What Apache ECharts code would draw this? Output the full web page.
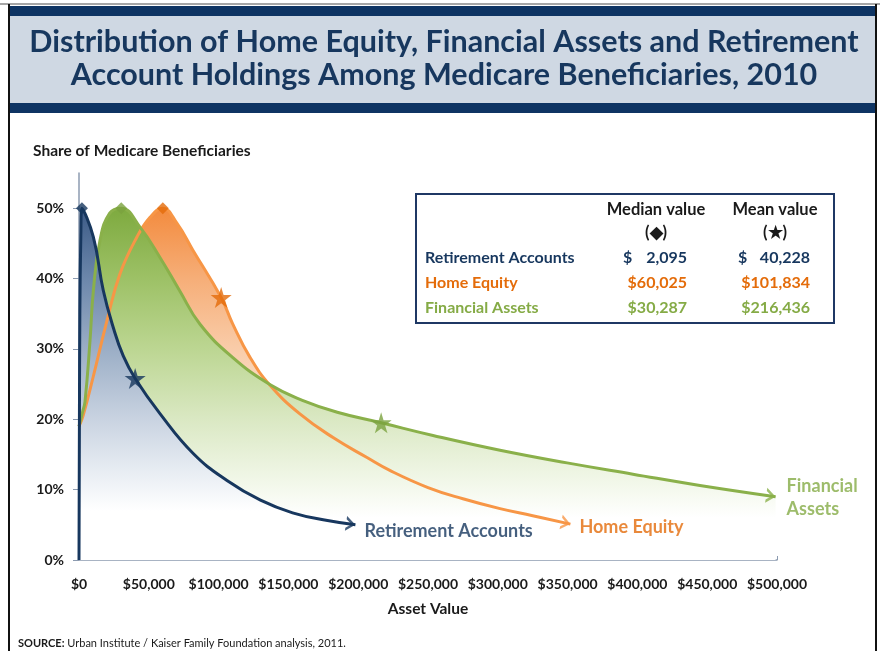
<!DOCTYPE html>
<html>
<head>
<meta charset="utf-8">
<script src="https://cdn.jsdelivr.net/npm/echarts/dist/echarts.min.js"></script>
<style>
html, body { margin: 0; padding: 0; background: #fff; }
#main { width: 880px; height: 651px; }
</style>
</head>
<body>
<div id="main"></div>
<script>
// values: [asset value $, share %]
var retirementPts = [[0, 0], [600, 35], [1300, 46], [2095, 50], [10300, 45.9], [17400, 38.3], [24600, 33], [31700, 29.0], [40228, 25.8], [58000, 20.8], [82000, 15.1], [106000, 11.3], [130000, 8.5], [153000, 6.7], [178000, 5.6], [198000, 5.0]];
var homeEquityPts = [[0, 19], [2900, 20.5], [10000, 25.9], [20000, 34], [29400, 40.7], [41500, 45.9], [50900, 48.7], [60025, 50], [70000, 47.9], [81700, 44], [101834, 37.3], [110000, 33.6], [122500, 28.8], [137000, 24.8], [158000, 20.8], [182000, 17.4], [206000, 14.6], [223000, 12.7], [250000, 10.3], [275000, 8.7], [301600, 7.3], [325000, 6.3], [352000, 5.1]];
var financialPts = [[0, 19], [2500, 21], [4300, 22.5], [7900, 31.2], [10300, 38.3], [15000, 45.4], [22000, 49.3], [30287, 50], [43700, 47.3], [58000, 43], [72000, 38.3], [86700, 33.5], [110000, 28.8], [137000, 24.9], [160000, 22.7], [185000, 21.0], [216436, 19.5], [253600, 17.7], [301600, 15.6], [349600, 13.8], [396800, 12.2], [444800, 10.6], [499000, 9.0]];

var seriesNames = ['Retirement Accounts', 'Home Equity', 'Financial Assets'];
var medianValues = [2095, 60025, 30287];
var meanValues = [40228, 101834, 216436];
var medianShare = [50, 50, 50];
var meanShare = [25.8, 37.3, 19.5];
var yTicks = [0, 10, 20, 30, 40, 50];
var xTicks = [0, 50000, 100000, 150000, 200000, 250000, 300000, 350000, 400000, 450000, 500000];

var FONT = 'Lato, "Open Sans", sans-serif';
var navy = '#17375E';
var orangeLine = '#F79646';
var orangeDark = '#E46C0A';
var greenLine = '#8AB04A';
var greenDark = '#7AA33E';
var greenText = '#85AB46';

var starPath = 'path://M50,0 L61,35 L98,35 L68,57 L79,91 L50,70 L21,91 L32,57 L2,35 L39,35 Z';
var arrowPath = 'path://M0,0 L9,7 L0,14 L0,11 L5.2,7 L0,3 Z M18,7 L18,7.01 L17.99,7 Z';

function grad(stops) {
	return {
		type: 'linear', x: 0, y: 0, x2: 0, y2: 1,
		colorStops: stops.map(function(s) { return { offset: s[0], color: s[1] }; })
	};
}

function money(v) {
	return v.toLocaleString('en-US');
}

var chart = echarts.init(document.getElementById('main'));

var allPts = [retirementPts, homeEquityPts, financialPts];
var lineColors = [navy, orangeLine, greenLine];
var markColors = [navy, orangeDark, greenDark];
var fills = [
	grad([[0, '#3B5A86'], [0.2, '#6C87AB'], [0.4, '#9BAEC6'], [0.6, '#C9D3E1'], [0.75, '#E8EDF3'], [0.86, '#FFFFFF']]),
	grad([[0, '#F38B3E'], [0.2, '#F6AE78'], [0.4, '#F9CCA9'], [0.6, '#FCE5D4'], [0.8, '#FFFFFF']]),
	grad([[0, '#7EAA3F'], [0.2, '#9DC166'], [0.4, '#BCD692'], [0.6, '#DAE8C3'], [0.75, '#EEF5E3'], [0.88, '#FFFFFF']])
];
var labelOffsets = [[9, 6], [9, 3], [11, 1]];
var labelColors = [navy, orangeDark, greenText];
var labelTexts = ['Retirement Accounts', 'Home Equity', 'Financial\nAssets'];

// draw order: orange (back), green, navy (front)
var order = [1, 2, 0];
var series = [];
order.forEach(function(i) {
	series.push({
		type: 'line',
		smooth: 0.45,
		showSymbol: false,
		silent: true,
		lineStyle: { width: 0, opacity: 0 },
		areaStyle: { color: fills[i], opacity: 1 },
		data: allPts[i],
		z: 1
	});
});
var lineIndex = {};
order.forEach(function(i) {
	lineIndex[i] = series.length;
	series.push({
		type: 'line',
		name: seriesNames[i],
		smooth: 0.45,
		showSymbol: false,
		lineStyle: { width: 3, color: lineColors[i] },
		data: allPts[i],
		z: 3
	});
});

// arrow heads at the end of every line
var arrowData = [0, 1, 2].map(function(i) {
	var pts = allPts[i];
	return {
		value: pts[pts.length - 1],
		itemStyle: { color: lineColors[i] },
		symbolRotate: 0,
		label: {
			show: true,
			position: 'inside',
			align: 'left',
			verticalAlign: 'middle',
			offset: labelOffsets[i],
			formatter: labelTexts[i],
			color: labelColors[i],
			fontFamily: FONT,
			fontWeight: 'bold',
			fontSize: 18,
			lineHeight: 23
		}
	};
});
series.push({
	type: 'scatter',
	symbol: arrowPath,
	symbolSize: [19, 15],
	data: arrowData,
	z: 6
});

series.push({
	type: 'scatter',
	symbol: 'diamond',
	symbolSize: 12,
	data: [0, 1, 2].map(function(i) {
		return { value: [medianValues[i], medianShare[i]], itemStyle: { color: markColors[i] } };
	}),
	z: 7
});
series.push({
	type: 'scatter',
	symbol: starPath,
	symbolSize: 21,
	data: [0, 1, 2].map(function(i) {
		return { value: [meanValues[i], meanShare[i]], itemStyle: { color: markColors[i] } };
	}),
	z: 7
});

// table of medians and means
var tbl = [];
tbl.push({ type: 'rect', shape: { x: 416, y: 194, width: 418, height: 129 }, style: { fill: '#fff', stroke: '#1F3864', lineWidth: 2 }, z: 20 });
var hdrStyle = { fontFamily: FONT, fontWeight: 'bold', fontSize: 16.5, fill: '#1a1a1a', textAlign: 'center', textVerticalAlign: 'middle' };
tbl.push({ type: 'text', x: 656, y: 210, style: Object.assign({ text: 'Median value' }, hdrStyle), z: 21 });
tbl.push({ type: 'text', x: 656, y: 233, style: Object.assign({ text: '(\u25C6)' }, hdrStyle), z: 21 });
tbl.push({ type: 'text', x: 775, y: 210, style: Object.assign({ text: 'Mean value' }, hdrStyle), z: 21 });
tbl.push({ type: 'text', x: 775, y: 233, style: Object.assign({ text: '(\u2605)' }, hdrStyle), z: 21 });
var rowY = [258, 283, 308];
var rowColors = [navy, orangeDark, greenText];

function valueCell(v, column, leftX, rightX, y, st) {
	var s = money(v);
	var widest = Math.max.apply(null, column.map(function(c) { return money(c).length; }));
	if (s.length < widest) {
		tbl.push({ type: 'text', x: leftX, y: y, style: Object.assign({ text: '$', textAlign: 'left' }, st), z: 21 });
		tbl.push({ type: 'text', x: rightX, y: y, style: Object.assign({ text: s, textAlign: 'right' }, st), z: 21 });
	} else {
		tbl.push({ type: 'text', x: rightX, y: y, style: Object.assign({ text: '$' + s, textAlign: 'right' }, st), z: 21 });
	}
}

[0, 1, 2].forEach(function(i) {
	var st = { fontFamily: FONT, fontWeight: 'bold', fontSize: 16, fill: rowColors[i], textVerticalAlign: 'middle' };
	tbl.push({ type: 'text', x: 425, y: rowY[i], style: Object.assign({ text: seriesNames[i], textAlign: 'left' }, st), z: 21 });
	valueCell(medianValues[i], medianValues, 623, 687, rowY[i], st);
	valueCell(meanValues[i], meanValues, 738, 810, rowY[i], st);
});

var frame = [
	{ type: 'rect', shape: { x: 0, y: 3, width: 880, height: 2 }, style: { fill: '#A6A6A6' }, z: 30 },
	{ type: 'rect', shape: { x: 8, y: 4, width: 2, height: 647 }, style: { fill: '#111' }, z: 30 },
	{ type: 'rect', shape: { x: 875, y: 4, width: 2, height: 647 }, style: { fill: '#111' }, z: 30 },
	{ type: 'rect', shape: { x: 10, y: 6, width: 865, height: 10 }, style: { fill: '#0E3463' }, z: 30 },
	{ type: 'rect', shape: { x: 10, y: 16, width: 865, height: 87 }, style: { fill: '#CFD8E3' }, z: 30 },
	{ type: 'rect', shape: { x: 10, y: 103, width: 865, height: 10 }, style: { fill: '#0E3463' }, z: 30 },
	{ type: 'text', x: 444, y: 42, style: { text: 'Distribution of Home Equity, Financial Assets and Retirement', fontFamily: FONT, fontWeight: 'bold', fontSize: 30.5, fill: navy, textAlign: 'center', textVerticalAlign: 'middle' }, z: 31 },
	{ type: 'text', x: 444, y: 75, style: { text: 'Account Holdings Among Medicare Beneficiaries, 2010', fontFamily: FONT, fontWeight: 'bold', fontSize: 30.5, fill: navy, textAlign: 'center', textVerticalAlign: 'middle' }, z: 31 },
	{ type: 'text', x: 33, y: 151, style: { text: 'Share of Medicare Beneficiaries', fontFamily: FONT, fontWeight: 'bold', fontSize: 15.5, fill: '#1a1a1a', textVerticalAlign: 'middle' }, z: 31 },
	{ type: 'text', x: 18, y: 643, style: {
		text: '{b|SOURCE:} Urban Institute / Kaiser Family Foundation analysis, 2011.',
		fontFamily: FONT, fontSize: 11, fill: '#1a1a1a', textVerticalAlign: 'middle',
		rich: { b: { fontFamily: FONT, fontSize: 11, fontWeight: 'bold', fill: '#1a1a1a' } }
	}, z: 31 }
];

var option = {
	animation: false,
	backgroundColor: '#fff',
	grid: { left: 79, right: 103, top: 173, bottom: 91, containLabel: false },
	xAxis: {
		type: 'value',
		min: 0,
		max: 500000,
		interval: 50000,
		name: 'Asset Value',
		nameLocation: 'middle',
		nameGap: 41,
		nameTextStyle: { fontFamily: FONT, fontWeight: 'bold', fontSize: 15.5, color: '#1a1a1a' },
		splitLine: { show: false },
		axisLine: { lineStyle: { color: '#8C9BB0', width: 1.5 } },
		axisTick: { show: true, inside: true, length: 4, lineStyle: { color: '#8C9BB0' } },
		axisLabel: {
			margin: 17,
			fontFamily: FONT, fontWeight: 'bold', fontSize: 14, color: '#1a1a1a',
			formatter: function(v) { return xTicks.indexOf(v) < 0 ? '' : '$' + money(v); }
		}
	},
	yAxis: {
		type: 'value',
		min: 0,
		max: 55,
		interval: 10,
		splitLine: { show: false },
		axisLine: { show: true, lineStyle: { color: '#8C9BB0', width: 1.5 } },
		axisTick: { show: true, length: 6, customValues: yTicks, lineStyle: { color: '#8C9BB0' } },
		axisLabel: {
			margin: 15,
			customValues: yTicks,
			fontFamily: FONT, fontWeight: 'bold', fontSize: 14, color: '#1a1a1a',
			formatter: function(v) { return yTicks.indexOf(v) < 0 ? '' : v + '%'; }
		}
	},
	graphic: frame.concat(tbl),
	series: series
};

chart.setOption(option);

// rotate arrow heads along the final direction of each line
var arrowIdx = series.length - 3;
var rotated = [0, 1, 2].map(function(i) {
	var pts = allPts[i];
	var a = chart.convertToPixel({ seriesIndex: lineIndex[i] }, pts[pts.length - 2]);
	var b = chart.convertToPixel({ seriesIndex: lineIndex[i] }, pts[pts.length - 1]);
	var ang = Math.atan2(-(b[1] - a[1]), b[0] - a[0]) * 180 / Math.PI;
	return Object.assign({}, arrowData[i], { symbolRotate: ang });
});
chart.setOption({ series: series.map(function(s, k) { return k === arrowIdx ? { data: rotated } : {}; }) });

window.onresize = function() {
	chart.resize();
};
</script>
</body>
</html>
